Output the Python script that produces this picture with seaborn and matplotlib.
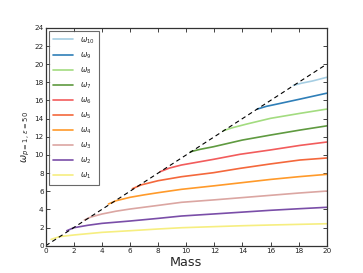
import matplotlib
matplotlib.use("Agg")
import matplotlib.pyplot as plt
import seaborn as sns
import pandas as pd

# ---- data ----
diag_mass = [0.0, 20.0]
diag_val = [0.0, 20.0]

m1 = [0.38, 1.0, 2.0, 4.0, 6.0, 8.0, 9.66, 12.0, 14.0, 16.0, 18.0, 20.0]
w1 = [0.70, 1.00, 1.18, 1.47, 1.65, 1.84, 1.98, 2.10, 2.20, 2.28, 2.35, 2.42]
m2 = [1.5, 1.8, 2.0, 3.0, 4.0, 6.0, 8.0, 9.66, 12.0, 14.0, 16.0, 18.0, 20.0]
w2 = [1.65, 1.85, 1.98, 2.25, 2.46, 2.72, 3.01, 3.27, 3.50, 3.70, 3.90, 4.07, 4.23]
m3 = [2.75, 3.2, 4.0, 5.0, 6.0, 8.0, 9.66, 12.0, 14.0, 16.0, 18.0, 20.0]
w3 = [2.83, 3.15, 3.49, 3.80, 4.04, 4.44, 4.78, 5.05, 5.30, 5.55, 5.80, 6.02]
m4 = [4.46, 5.0, 6.0, 7.0, 8.0, 9.66, 12.0, 14.0, 16.0, 18.0, 20.0]
w4 = [4.59, 4.95, 5.33, 5.60, 5.84, 6.21, 6.60, 6.95, 7.30, 7.60, 7.86]
m5 = [6.17, 6.8, 8.0, 9.66, 11.93, 13.83, 15.96, 18.1, 20.0]
w5 = [6.28, 6.70, 7.16, 7.60, 8.04, 8.52, 9.00, 9.44, 9.66]
m6 = [8.14, 8.8, 9.66, 11.93, 13.83, 15.96, 18.1, 20.0]
w6 = [8.15, 8.55, 8.89, 9.51, 10.07, 10.54, 11.05, 11.42]
m7 = [10.3, 11.0, 11.93, 14.0, 16.0, 18.1, 20.0]
w7 = [10.35, 10.62, 10.90, 11.64, 12.19, 12.74, 13.20]
m8 = [12.64, 13.3, 14.3, 16.0, 18.1, 20.0]
w8 = [12.67, 13.00, 13.40, 14.03, 14.58, 15.05]
m9 = [15.06, 15.7, 16.7, 18.1, 20.0]
w9 = [15.05, 15.35, 15.68, 16.15, 16.80]
m10 = [17.63, 18.2, 19.0, 20.0]
w10 = [17.66, 17.90, 18.15, 18.55]

labels = [r"$\omega_{%d}$" % i for i in range(1, 11)]
colors = ["#f6ee80", "#7a4ea8", "#dba6a2", "#ff9a2a", "#f4683c",
          "#f25c5c", "#5f9a40", "#a3dc80", "#2f7fb8", "#a6cee3"]

masses = [m1, m2, m3, m4, m5, m6, m7, m8, m9, m10]
values = [w1, w2, w3, w4, w5, w6, w7, w8, w9, w10]

sns.set_style("ticks", {"xtick.direction": "in", "ytick.direction": "in",
                        "axes.edgecolor": "#333333"})
plt.rcParams['font.family'] = ['DejaVu Sans']

fig = plt.figure(figsize=(3.63, 2.73), dpi=100)
ax = fig.add_axes([0.126, 0.10, 0.774, 0.798])

for i in range(9, -1, -1):
    df = pd.DataFrame({"Mass": masses[i], "w": values[i]})
    sns.lineplot(data=df, x="Mass", y="w", ax=ax, color=colors[i],
                 lw=1.2, label=labels[i], sort=False)

sns.lineplot(x=diag_mass, y=diag_val, ax=ax, color="black", lw=0.8,
             linestyle=(0, (4, 3)), sort=False)

ax.set_xlim(0, 20)
ax.set_ylim(0, 24)
ax.set_xticks(range(0, 21, 2))
ax.set_yticks(range(0, 25, 2))
ax.tick_params(labelsize=5.2, length=3, width=0.6, top=True, right=True,
               pad=1.5, colors="#222222")
for s in ax.spines.values():
    s.set_linewidth(0.9)
ax.set_xlabel("Mass", fontsize=9.2, labelpad=1.5)
ax.set_ylabel(r"$\omega_{p=1,\,\epsilon=50}$", fontsize=7, labelpad=2)

leg = ax.legend(loc="upper left", fontsize=5.5, frameon=True, fancybox=False,
                edgecolor="#444444", handlelength=2.6, labelspacing=0.6,
                borderaxespad=0.45, handletextpad=1.0, borderpad=0.5)
leg.get_frame().set_linewidth(0.8)

fig.savefig("out.png", dpi=100)
